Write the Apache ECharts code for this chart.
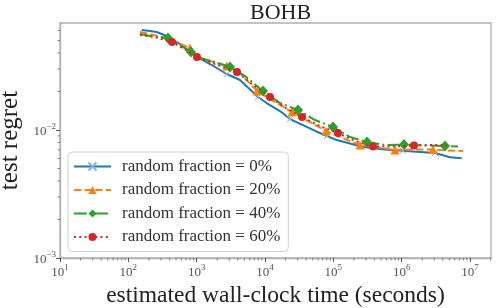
<!DOCTYPE html>
<html>
<head>
<meta charset="utf-8">
<script src="https://cdn.jsdelivr.net/npm/echarts@6/dist/echarts.min.js"></script>
<style>html,body{margin:0;padding:0;background:#fff}#c{width:500px;height:308px}</style>
</head>
<body>
<div id="c"></div>
<script>
// ---- data ----
const seriesNames = ['random fraction = 0%', 'random fraction = 20%', 'random fraction = 40%', 'random fraction = 60%'];

const blueX = [157, 207.5, 260, 364, 570, 1000, 1567, 2754, 4307, 7900, 10590, 16585, 23240, 35980, 57110, 80830, 112000, 175400, 263000, 421300, 675300, 1.047e6, 1.66e6, 3.076e6, 5.1e6, 7.57e6];
const blueY = [0.0604, 0.0593, 0.0583, 0.0543, 0.0470, 0.0374, 0.0328, 0.0274, 0.0246, 0.0181, 0.01625, 0.01407, 0.01218, 0.01094, 0.00970, 0.00898, 0.00835, 0.00784, 0.00741, 0.00717, 0.00698, 0.00688, 0.00677, 0.00661, 0.00612, 0.00601];
const blueMarks = [7, 9, 12, 15, 18, 21, 23];

const orangeX = [148.2, 207.5, 364, 799, 1119, 1567, 2754, 4307, 7638, 11840, 24850, 45580, 78150, 148200, 245800, 533600, 799100, 1.568e6, 2.875e6, 4.61e6, 7.9e6];
const orangeY = [0.0583, 0.0562, 0.0523, 0.0437, 0.0365, 0.0346, 0.0316, 0.0279, 0.0202, 0.0175, 0.01382, 0.01155, 0.00982, 0.00851, 0.00764, 0.00723, 0.00698, 0.00704, 0.00704, 0.00692, 0.00686];
const orangeMarks = [3, 6, 8, 10, 12, 14, 16, 18];

const greenX = [148.2, 207.5, 380.7, 826, 1119, 1855, 3076, 5098, 9352, 16585, 30420, 53950, 98920, 175400, 311200, 570600, 1.083e6, 2.197e6, 4.31e6, 6.68e6];
const greenY = [0.0562, 0.0543, 0.0523, 0.0407, 0.0365, 0.0340, 0.0311, 0.0264, 0.0202, 0.01625, 0.01433, 0.01197, 0.01055, 0.00882, 0.00806, 0.00764, 0.00770, 0.00757, 0.00750, 0.00743];
const greenMarks = [2, 3, 6, 8, 10, 12, 14, 16, 18];

const redX = [148.2, 245.6, 435.7, 698, 1012, 1855, 3894, 6675, 11840, 20300, 34800, 63830, 117100, 207700, 380800, 722400, 1.516e6, 2.599e6, 4.61e6];
const redY = [0.0552, 0.0533, 0.0487, 0.0422, 0.0372, 0.0328, 0.0284, 0.0225, 0.0181, 0.01485, 0.01264, 0.01074, 0.00947, 0.00821, 0.00743, 0.00743, 0.00757, 0.00764, 0.00764];
const redMarks = [2, 4, 6, 8, 10, 12, 14, 16];

const xMin = 10, xMax = 2.03e7;
const yMin = 0.001, yMax = 0.0686;
const xMinorTicks = [20,30,40,50,60,70,80,90, 200,300,400,500,600,700,800,900, 2e3,3e3,4e3,5e3,6e3,7e3,8e3,9e3, 2e4,3e4,4e4,5e4,6e4,7e4,8e4,9e4, 2e5,3e5,4e5,5e5,6e5,7e5,8e5,9e5, 2e6,3e6,4e6,5e6,6e6,7e6,8e6,9e6, 2e7];
const yMinorTicks = [0.002,0.003,0.004,0.005,0.006,0.007,0.008,0.009, 0.02,0.03,0.04,0.05,0.06];

// ---- chart ----
const FONT = 'Liberation Serif';
const GRAY = '#b0b0b0';
function build(xs, ys, marks) {
  return xs.map((x, i) => marks.indexOf(i) >= 0 ? {value: [x, ys[i]]} : {value: [x, ys[i]], symbol: 'none'});
}
function powLabel(v) {
  const l = Math.log10(v), e = Math.round(l);
  if (Math.abs(l - e) > 1e-6) return '';
  return '{b|10}{s|' + (e < 0 ? '\u2212' + (-e) : e) + '}';
}
const labelRich = {
  b: {fontFamily: FONT, fontSize: 13, color: '#555', lineHeight: 16, verticalAlign: 'bottom'},
  s: {fontFamily: FONT, fontSize: 9, color: '#555', lineHeight: 16, verticalAlign: 'top'}
};

const chart = echarts.init(document.getElementById('c'), null, {renderer: 'canvas'});
chart.setOption({
  animation: false,
  backgroundColor: '#fff',
  title: {text: 'BOHB', left: 245, top: -3, textStyle: {fontFamily: FONT, fontSize: 22, fontWeight: 'normal', color: '#222'}},
  grid: {left: 60, right: 9, top: 23, bottom: 50, show: true, borderColor: GRAY, borderWidth: 1.3,
         backgroundColor: 'transparent', containLabel: false, outerBoundsMode: 'none'},
  legend: {
    data: seriesNames, orient: 'vertical', left: 68, top: 152,
    padding: [6, 8, 6, 5], itemGap: 6.5, itemWidth: 37, itemHeight: 10,
    backgroundColor: 'rgba(255,255,255,0.85)', borderColor: '#d0d0d0', borderWidth: 1, borderRadius: 4,
    textStyle: {fontFamily: FONT, fontSize: 17, color: '#333', lineHeight: 16, padding: [0, 0, 0, 6]}
  },
  xAxis: {
    type: 'log', min: xMin, max: xMax, logBase: 10,
    name: 'estimated wall-clock time (seconds)', nameLocation: 'middle', nameGap: 22,
    nameTextStyle: {fontFamily: FONT, fontSize: 23.5, color: '#222'},
    axisLine: {show: true, lineStyle: {color: GRAY, width: 1.3}},
    axisTick: {show: true, inside: false, length: 4, lineStyle: {color: '#555', width: 1}},
    axisLabel: {formatter: powLabel, rich: labelRich, margin: 5, showMaxLabel: false},
    splitLine: {show: false}, minorTick: {show: false}
  },
  yAxis: {
    type: 'log', min: yMin, max: yMax, logBase: 10,
    name: 'test regret', nameLocation: 'middle', nameGap: 33,
    nameTextStyle: {fontFamily: FONT, fontSize: 25, color: '#222'},
    axisLine: {show: true, lineStyle: {color: GRAY, width: 1.3}},
    axisTick: {show: true, inside: false, length: 4, lineStyle: {color: '#555', width: 1}},
    axisLabel: {formatter: powLabel, rich: labelRich, margin: 4, showMaxLabel: false},
    splitLine: {show: false}
  },
  series: [
    {name: seriesNames[0], type: 'line', data: build(blueX, blueY, blueMarks), color: '#1f77b4',
     lineStyle: {width: 2, color: '#1f77b4'}, symbol: 'path://M0,0L10,10M10,0L0,10', symbolSize: 6,
     itemStyle: {color: 'rgba(0,0,0,0)', borderColor: '#7fb3dd', borderWidth: 1}, z: 2},
    {name: seriesNames[1], type: 'line', data: build(orangeX, orangeY, orangeMarks), color: '#ff7f0e',
     lineStyle: {width: 2, color: '#ff7f0e', type: [7.4, 3.2]}, symbol: 'triangle', symbolSize: 9,
     itemStyle: {color: '#ff7f0e', borderWidth: 0}, z: 3},
    {name: seriesNames[2], type: 'line', data: build(greenX, greenY, greenMarks), color: '#2ca02c',
     lineStyle: {width: 2, color: '#2ca02c', type: [12.8, 3.2, 2, 3.2]}, symbol: 'diamond', symbolSize: [10, 11],
     itemStyle: {color: '#2ca02c', borderWidth: 0}, z: 4},
    {name: seriesNames[3], type: 'line', data: build(redX, redY, redMarks), color: '#d62728',
     lineStyle: {width: 2, color: '#d62728', type: [2, 3.3]}, symbol: 'circle', symbolSize: 8,
     itemStyle: {color: '#d62728', borderWidth: 0}, z: 5},
    {type: 'custom', silent: true, clip: false, z: 1,
     data: xMinorTicks.map(v => [v, yMin]),
     renderItem: function (params, api) {
       const p = api.coord([api.value(0), api.value(1)]);
       return {type: 'line', shape: {x1: p[0], y1: p[1], x2: p[0], y2: p[1] + 2.5}, style: {stroke: '#666', lineWidth: 0.8}};
     }},
    {type: 'custom', silent: true, clip: false, z: 1,
     data: yMinorTicks.map(v => [xMin, v]),
     renderItem: function (params, api) {
       const p = api.coord([api.value(0), api.value(1)]);
       return {type: 'line', shape: {x1: p[0], y1: p[1], x2: p[0] - 2.5, y2: p[1]}, style: {stroke: '#666', lineWidth: 0.8}};
     }}
  ]
});
</script>
</body>
</html>
